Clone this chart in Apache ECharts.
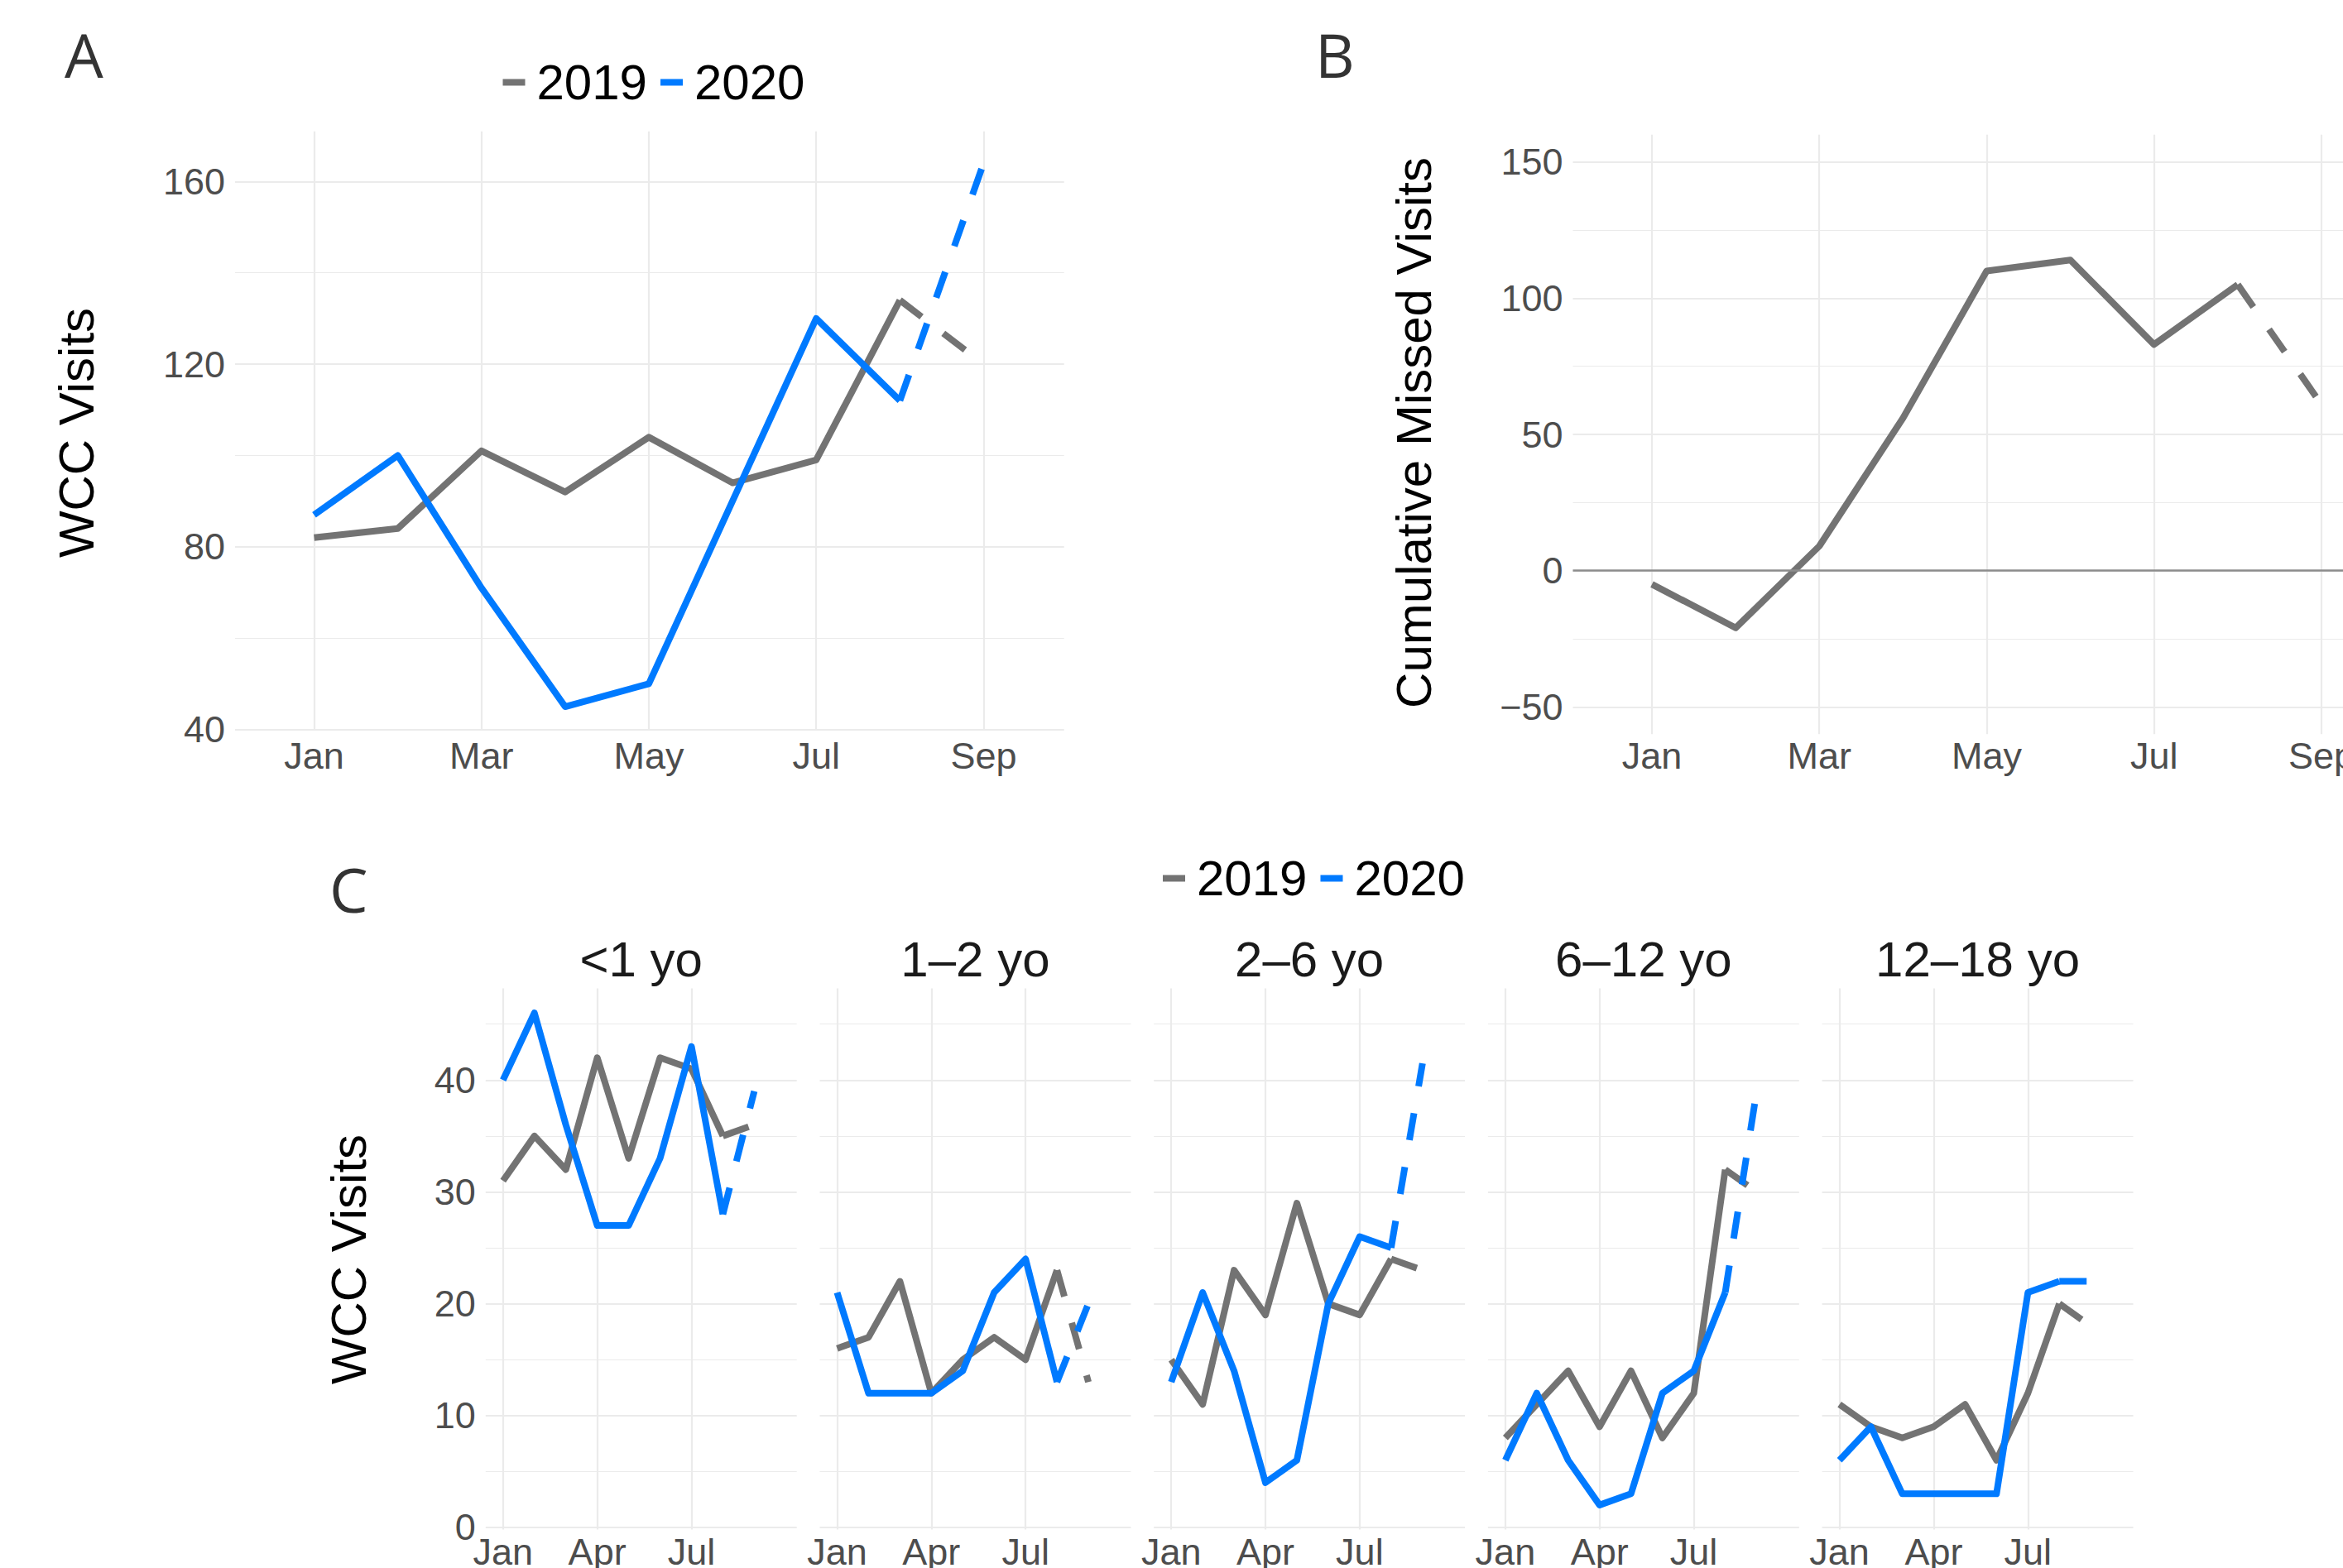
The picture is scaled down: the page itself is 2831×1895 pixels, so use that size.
<!DOCTYPE html>
<html><head><meta charset="utf-8">
<script src="https://cdn.jsdelivr.net/npm/echarts@6/dist/echarts.min.js"></script>
<style>html,body{margin:0;padding:0;background:#fff}#chart{width:2831px;height:1895px}</style>
</head><body><div id="chart"></div>
<script>
// ---------------- data ----------------
const monthNames = ['Jan','Feb','Mar','Apr','May','Jun','Jul','Aug','Sep'];
const months = [1,2,3,4,5,6,7,8,9];           // Sep = projected (dashed) point
const yearNames = ['2019','2020'];

// Panel A: total WCC visits per month
const visits2019 = [82,84,101,92,104,94,99,134,120];
const visits2020 = [87,100,71,45,50,90,130,112,164];

// Panel B: cumulative missed visits
const cumulativeMissed = [-5,-21,9,56,110,114,83,105,61];

// Panel C: WCC visits per age group
const ageGroups = ['<1 yo','1–2 yo','2–6 yo','6–12 yo','12–18 yo'];
const lt1_2019    = [31,35,32,42,33,42,41,35,36];
const lt1_2020    = [40,46,36,27,27,33,43,28,39];
const y1to2_2019  = [16,17,22,12,15,17,15,23,13];
const y1to2_2020  = [21,12,12,12,14,21,24,13,20];
const y2to6_2019  = [15,11,23,19,29,20,19,24,23];
const y2to6_2020  = [13,21,14,4,6,20,26,25,41.5];
const y6to12_2019 = [8,11,14,9,14,8,12,32,30];
const y6to12_2020 = [6,12,6,2,3,12,14,21,39];
const y12to18_2019 = [11,9,8,9,11,6,12,20,18];
const y12to18_2020 = [6,9,3,3,3,3,21,22,22];

// tick labels
const xTicksAB = [1,3,5,7,9];
const xTicksC = [1,4,7];
const yTicksA = [40,80,120,160];
const yMinorA = [60,100,140];
const yTicksB = [-50,0,50,100,150];
const yMinorB = [-25,25,75,125];
const yTicksC = [0,10,20,30,40];
const yMinorC = [5,15,25,35,45];

// ---------------- styling ----------------
const FONT = "'Liberation Sans', Arial, Helvetica, sans-serif";
const GRAY = '#737373';
const BLUE = '#007AFF';
const GRID_COLOR = '#ebebeb';
const TICK_COLOR = '#4d4d4d';
const LINE_W = 8;
const DASH = [33, 33];

const grids = [], xAxes = [], yAxes = [], series = [];

function addPanel(p) {
  const gi = grids.length;
  grids.push({left: p.left, top: p.top, width: p.width, height: p.height,
    containLabel: false, outerBoundsMode: 'none'});
  xAxes.push({type: 'value', gridIndex: gi, min: p.xmin, max: p.xmax,
    axisLine: {show: false, onZero: false},
    axisTick: {show: false, customValues: p.xTicks},
    axisLabel: {customValues: p.xTicks, margin: p.xMargin, color: TICK_COLOR,
      fontSize: 45, lineHeight: 45, fontFamily: FONT,
      formatter: v => monthNames[Math.round(v) - 1]},
    splitLine: {show: true, lineStyle: {color: GRID_COLOR, width: 2.2}}});
  const yi = yAxes.length;
  yAxes.push({type: 'value', gridIndex: gi, position: 'left', min: p.ymin, max: p.ymax,
    axisLine: {show: false}, axisTick: {show: false, customValues: p.yTicks},
    axisLabel: {show: p.showY, customValues: p.yTicks, margin: 12, color: TICK_COLOR,
      fontSize: 45, lineHeight: 45, fontFamily: FONT,
      formatter: v => String(v).replace('-', '\u2212')},
    splitLine: {show: true, lineStyle: {color: GRID_COLOR, width: 2.2}}});
  yAxes.push({type: 'value', gridIndex: gi, position: 'right', min: p.ymin, max: p.ymax,
    axisLine: {show: false}, axisTick: {show: false, customValues: p.yMinor},
    axisLabel: {show: false, customValues: p.yMinor},
    splitLine: {show: true, lineStyle: {color: GRID_COLOR, width: 1.2}}});
  return {xi: gi, yi: yi};
}

function pts(vals, from, to) {
  return months.slice(from, to).map((m, i) => [m, vals[from + i]]);
}

function addLine(ax, name, vals, color, extra) {
  const base = {type: 'line', name: name, xAxisIndex: ax.xi, yAxisIndex: ax.yi,
    symbol: 'none', showSymbol: false, silent: true, animation: false,
    emphasis: {disabled: true}, itemStyle: {color: color}, z: 3};
  series.push(Object.assign({}, base, {data: pts(vals, 0, 8),
    lineStyle: {color: color, width: LINE_W, type: 'solid', join: 'round', cap: 'butt'}}, extra || {}));
  series.push(Object.assign({}, base, {data: pts(vals, 7, 9),
    lineStyle: {color: color, width: LINE_W, type: DASH, join: 'round', cap: 'butt'}}));
}

// Panel A
const axA = addPanel({left: 284, top: 158.7, width: 1001.7, height: 723.3,
  xmin: 0.0555, xmax: 9.962, ymin: 39.93, ymax: 170.98,
  xTicks: xTicksAB, yTicks: yTicksA, yMinor: yMinorA, showY: true, xMargin: 9});
addLine(axA, yearNames[0], visits2019, GRAY);
addLine(axA, yearNames[1], visits2020, BLUE);

// Panel B
const axB = addPanel({left: 1900.5, top: 162.8, width: 1001.7, height: 724.4,
  xmin: 0.0555, xmax: 9.962, ymin: -60, ymax: 160,
  xTicks: xTicksAB, yTicks: yTicksB, yMinor: yMinorB, showY: true, xMargin: 4});
addLine(axB, 'missed', cumulativeMissed, GRAY, {
  markLine: {silent: true, symbol: 'none', animation: false, label: {show: false},
    lineStyle: {color: '#8c8c8c', width: 2.5, type: 'solid'}, data: [{yAxis: 0}]}});

// Panel C facets
const facet2019 = [lt1_2019, y1to2_2019, y2to6_2019, y6to12_2019, y12to18_2019];
const facet2020 = [lt1_2020, y1to2_2020, y2to6_2020, y6to12_2020, y12to18_2020];
const facetCenters = [];
ageGroups.forEach((g, k) => {
  const left = 586.8 + 403.7 * k;
  facetCenters.push(left + 375.9 / 2);
  const ax = addPanel({left: left, top: 1194.5, width: 375.9, height: 654.1,
    xmin: 0.447, xmax: 10.352, ymin: -0.2, ymax: 48.2,
    xTicks: xTicksC, yTicks: yTicksC, yMinor: yMinorC, showY: k === 0, xMargin: 4});
  addLine(ax, yearNames[0], facet2019[k], GRAY);
  addLine(ax, yearNames[1], facet2020[k], BLUE);
});

function textEl(text, x, y, size, color, family, align, rot) {
  return {type: 'text', x: x, y: y, rotation: rot || 0, silent: true, z: 10,
    style: {text: text, fontSize: size, fontFamily: family, fill: color,
      align: align, verticalAlign: 'middle', textAlign: align, textVerticalAlign: 'middle'}};
}

const LETTER_FONT = "'Open Sans', 'Noto Sans', sans-serif";
const graphics = [
  textEl('A', 78, 65, 74, '#333333', LETTER_FONT, 'left'),
  textEl('B', 1589, 65, 74, '#333333', LETTER_FONT, 'left'),
  textEl('C', 398, 1074, 74, '#333333', LETTER_FONT, 'left'),
  textEl('WCC Visits', 92, 523, 60, '#000000', FONT, 'center', Math.PI / 2),
  textEl('Cumulative Missed Visits', 1708, 523, 60, '#000000', FONT, 'center', Math.PI / 2),
  textEl('WCC Visits', 421, 1522, 60, '#000000', FONT, 'center', Math.PI / 2)
];
ageGroups.forEach((g, k) => graphics.push(textEl(g, facetCenters[k], 1159, 60, '#1a1a1a', FONT, 'center')));

function legendCfg(left, top) {
  return {show: true, left: left, top: top, orient: 'horizontal', padding: 0,
    data: yearNames, icon: 'rect', itemWidth: 27, itemHeight: 8, itemGap: 16,
    selectedMode: false,
    textStyle: {fontSize: 60, lineHeight: 60, color: '#000', fontFamily: FONT, padding: [0, 0, 0, 9]}};
}

const chart = echarts.init(document.getElementById('chart'), null, {renderer: 'svg', width: 2831, height: 1895});
chart.setOption({
  animation: false,
  backgroundColor: '#ffffff',
  grid: grids,
  xAxis: xAxes,
  yAxis: yAxes,
  legend: [legendCfg(607.5, 69.5), legendCfg(1405, 1031.5)],
  graphic: graphics,
  series: series
});
</script>
</body></html>
